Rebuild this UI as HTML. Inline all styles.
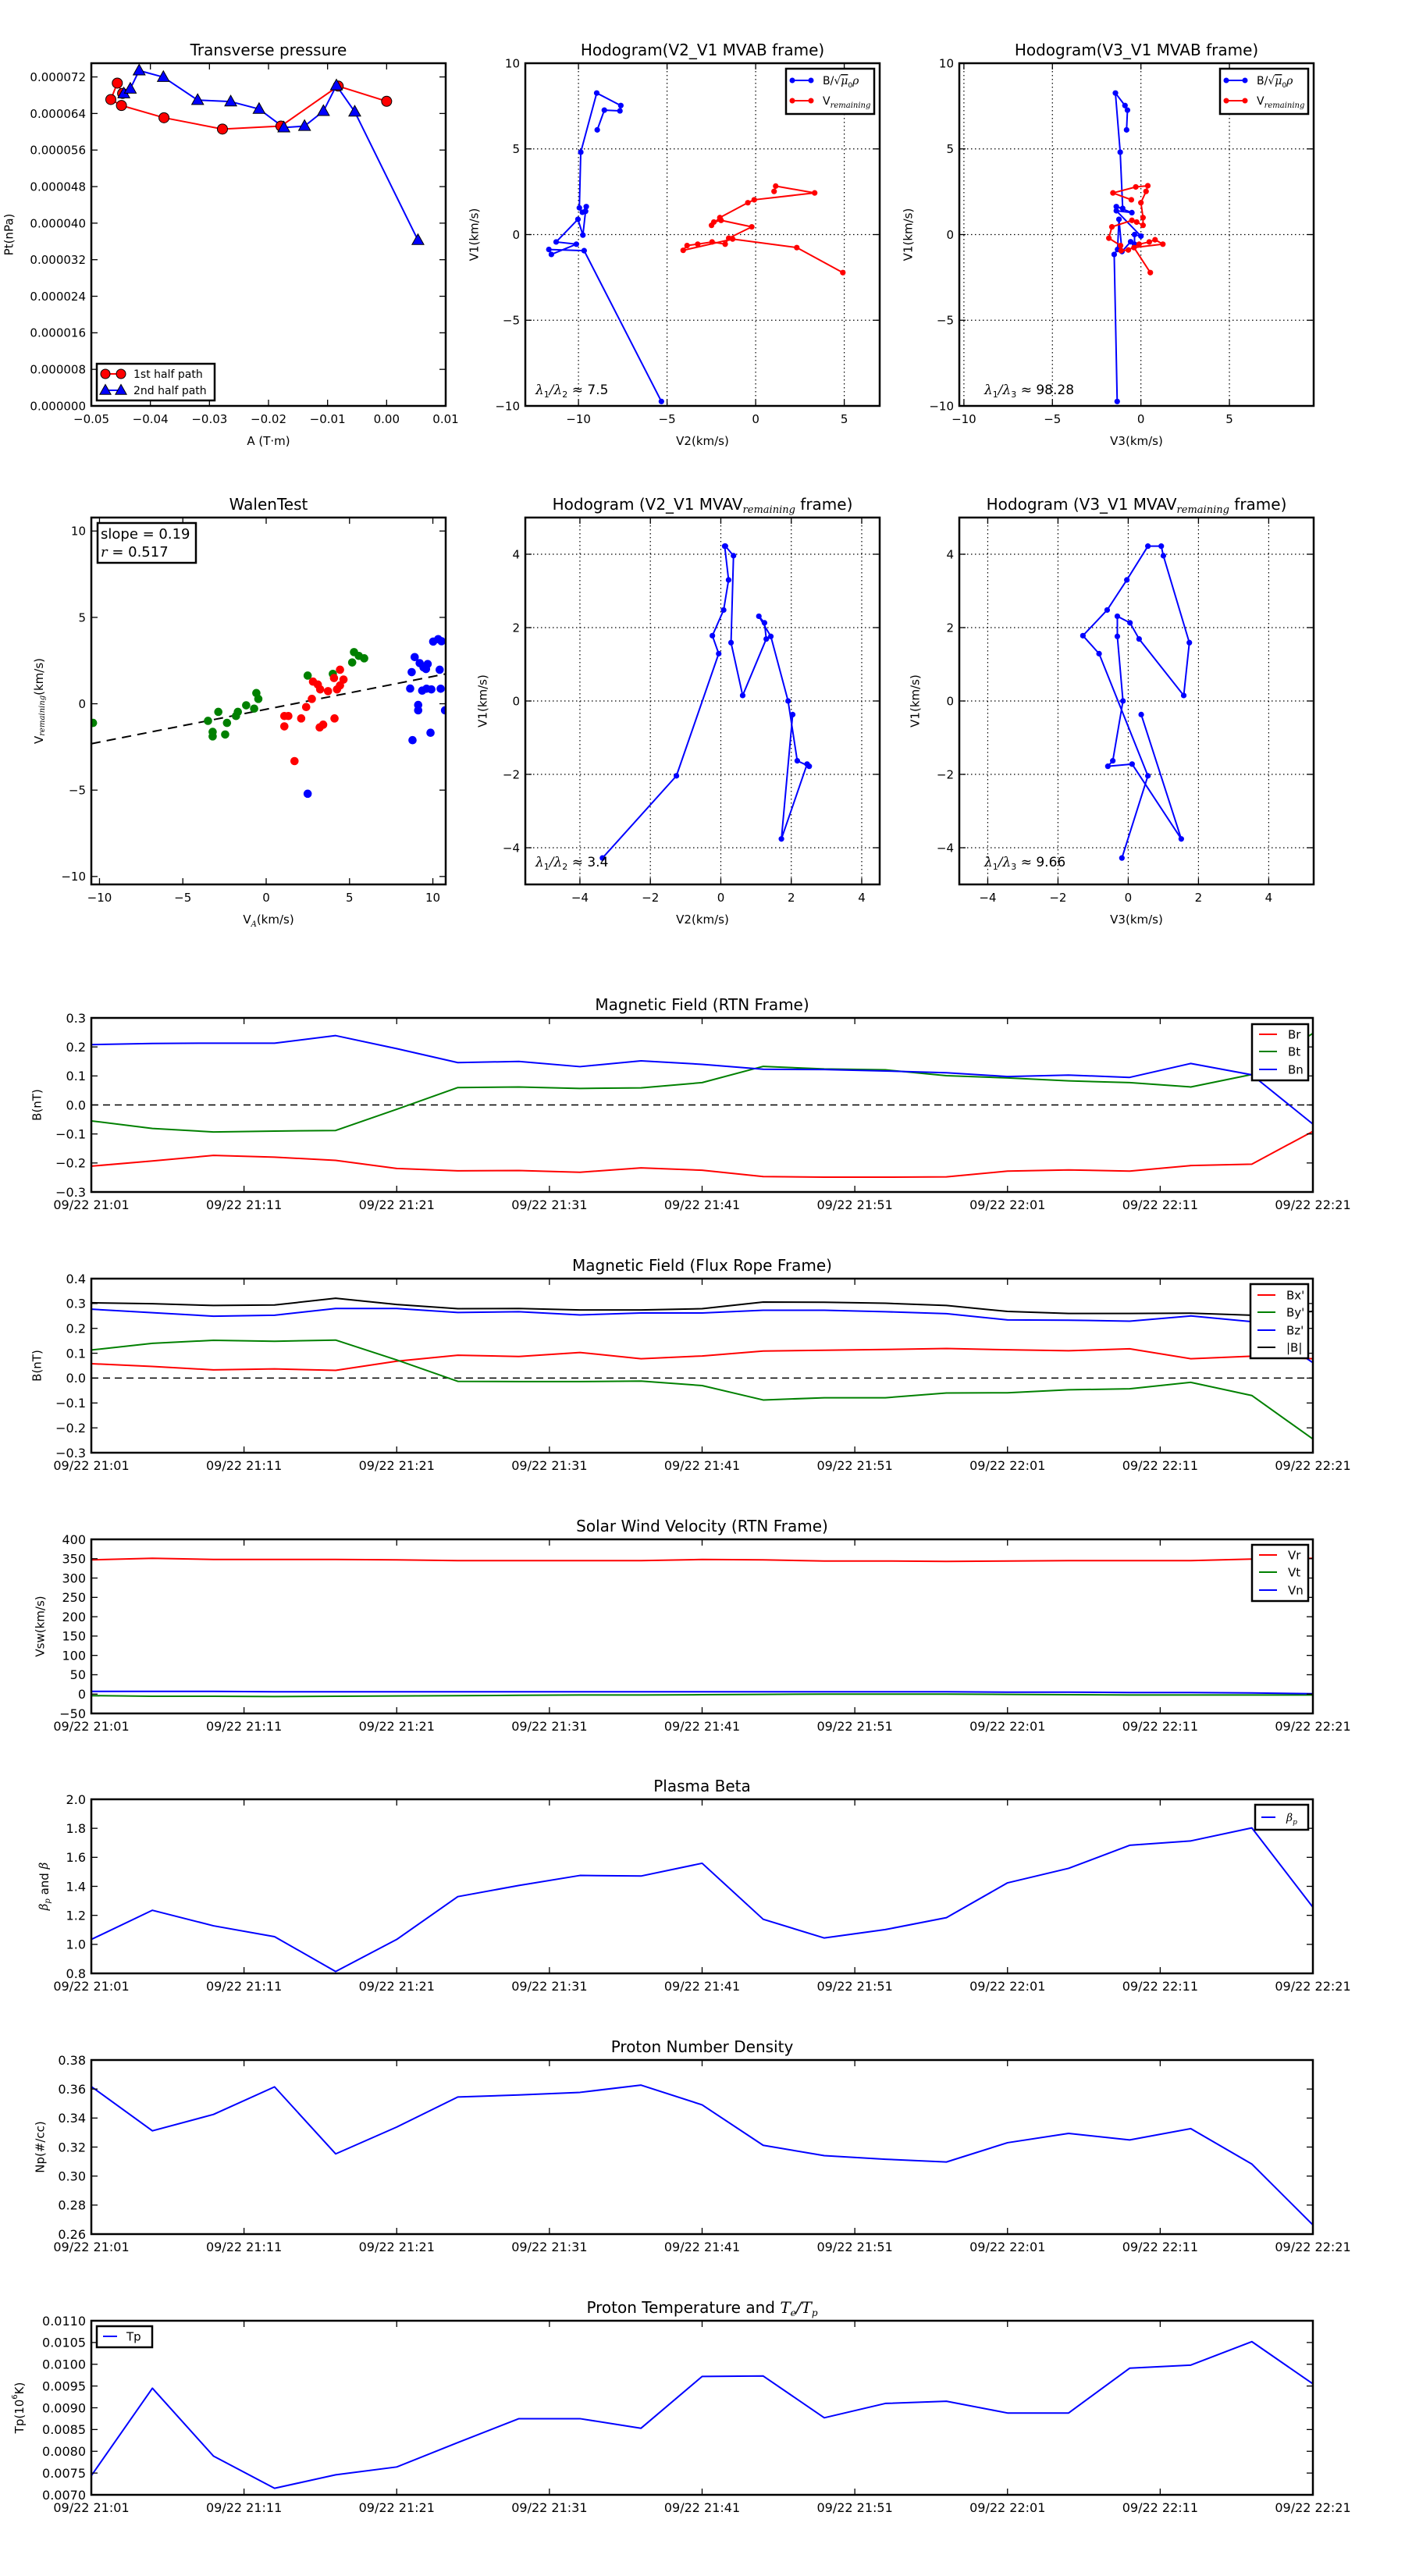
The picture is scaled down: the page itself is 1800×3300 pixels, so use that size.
<!DOCTYPE html>
<html><head><meta charset="utf-8"><title>Flux rope analysis</title>
<style>
html,body{margin:0;padding:0;background:#fff;}
svg{display:block;font-family:"DejaVu Sans","Liberation Sans",sans-serif;}
</style></head>
<body>
<svg id="fig" width="1800" height="3300" viewBox="0 0 1800 3300" xmlns="http://www.w3.org/2000/svg">
<rect x="0" y="0" width="1800" height="3300" fill="#fff"/>
</svg>
<script>
// ---------- data: Transverse pressure ----------
const pt1A = [-0.0447,-0.0456,-0.0467,-0.0449,-0.0377,-0.0278,-0.0179,-0.0082,0.0000];
const pt1P = [6.84e-5,7.065e-5,6.706e-5,6.575e-5,6.307e-5,6.059e-5,6.124e-5,7.00e-5,6.667e-5];
const pt2A = [-0.0445,-0.0434,-0.0419,-0.0378,-0.0320,-0.0264,-0.0216,-0.0174,-0.0139,-0.0107,-0.0085,-0.0054,0.0053];
const pt2P = [6.837e-5,6.941e-5,7.340e-5,7.196e-5,6.693e-5,6.660e-5,6.497e-5,6.092e-5,6.124e-5,6.451e-5,7.013e-5,6.438e-5,3.627e-5];
const ptYTicks = [0,0.000008,0.000016,0.000024,0.000032,0.000040,0.000048,0.000056,0.000064,0.000072];
const ptXTicks = [-0.05,-0.04,-0.03,-0.02,-0.01,0.00,0.01];
// ---------- data: Hodogram V2_V1 MVAB ----------
const hbV2 = [-8.94,-8.54,-7.66,-7.61,-8.97,-9.87,-9.95,-9.78,-9.56,-9.60,-9.75,-10.03,-11.26,-10.12,-11.53,-11.67,-9.68,-5.32];
const hbV1 = [6.11,7.26,7.22,7.53,8.26,4.81,1.56,1.30,1.63,1.36,-0.03,0.89,-0.43,-0.56,-1.16,-0.87,-0.94,-9.74];
const hrV2 = [4.92,2.32,-1.30,-4.09,-3.87,-3.27,-2.46,-1.72,-1.52,-0.22,-1.95,-2.36,-2.49,-2.02,-0.44,-0.08,3.33,1.13,1.04];
const hrV1 = [-2.22,-0.76,-0.26,-0.92,-0.64,-0.56,-0.43,-0.56,-0.21,0.45,0.83,0.73,0.54,0.99,1.86,2.03,2.43,2.83,2.52];
// ---------- data: Hodogram V3_V1 MVAB ----------
const hbV3 = [-0.81,-0.76,-0.90,-1.44,-1.17,-1.03,-1.39,-0.51,-1.39,0.00,-0.36,-0.36,-0.58,-1.07,-1.24,-1.32,-1.51,-1.34];
const hbV1b = [6.11,7.26,7.53,8.26,4.81,1.53,1.63,1.28,1.39,-0.09,0.00,-0.56,-0.42,-0.99,0.89,-0.87,-1.16,-9.74];
const hrV3 = [-0.54,-1.58,-0.29,0.39,0.29,0.00,0.12,0.12,-0.24,-0.51,-1.64,-1.81,-1.15,-1.12,-0.71,-0.10,0.47,0.80,1.24,-0.39,0.53];
const hrV1b = [2.03,2.43,2.78,2.85,2.52,1.86,0.99,0.54,0.73,0.83,0.45,-0.21,-0.64,-0.94,-0.90,-0.56,-0.43,-0.30,-0.56,-0.76,-2.22];
const hodoTicks10 = [-10,-5,0,5,10];
// ---------- data: Walen test ----------
const wgX = [-10.39,-3.49,-3.21,-3.21,-2.87,-2.46,-2.35,-1.81,-1.70,-1.20,-0.72,-0.59,-0.47,2.49,4.00,5.16,5.27,5.56,5.88];
const wgY = [-1.11,-0.99,-1.63,-1.89,-0.47,-1.78,-1.11,-0.71,-0.47,-0.09,-0.28,0.62,0.28,1.63,1.73,2.39,2.99,2.77,2.63];
const wrX = [1.09,1.33,1.09,1.70,2.10,2.40,2.74,2.81,3.10,3.24,3.21,3.42,3.71,4.07,4.10,4.25,4.43,4.43,4.64];
const wrY = [-0.71,-0.71,-1.31,-3.32,-0.85,-0.19,0.28,1.28,1.11,0.83,-1.37,-1.21,0.73,1.49,-0.85,0.83,1.06,1.97,1.40];
const wbX = [2.49,8.64,8.73,8.78,8.91,9.12,9.12,9.21,9.36,9.44,9.59,9.62,9.69,9.86,9.91,10.02,10.32,10.41,10.47,10.52,10.73];
const wbY = [-5.21,0.88,1.83,-2.11,2.70,-0.07,-0.38,2.35,0.76,2.11,2.01,0.87,2.30,-1.68,0.83,3.60,3.74,1.97,0.87,3.62,-0.38];
const walenSlope = 0.19;
const walenIntercept = -0.32;
// ---------- data: MVAV hodograms ----------
const mvV1 = [-4.28,-2.04,1.29,1.78,2.48,3.30,4.22,4.22,3.96,1.59,0.15,1.69,2.13,2.31,1.76,0.00,-1.63,-1.78,-1.72,-3.76,-0.37];
const mvV2 = [-3.36,-1.26,-0.06,-0.24,0.08,0.22,0.11,0.13,0.36,0.29,0.62,1.29,1.24,1.08,1.42,1.91,2.17,2.51,2.45,1.72,2.04];
const mvV3 = [-0.18,0.56,-0.83,-1.29,-0.60,-0.04,0.56,0.94,1.00,1.74,1.58,0.31,0.05,-0.31,-0.31,-0.15,-0.44,-0.58,0.11,1.51,0.37];
const hodoTicks4 = [-4,-2,0,2,4];
// ---------- data: time series ----------
const times = ["21:01","21:05","21:09","21:13","21:17","21:21","21:25","21:29","21:33","21:37","21:41","21:45","21:49","21:53","21:57","22:01","22:05","22:09","22:13","22:17","22:21"];
const timeTickLabels = ["09/22 21:01","09/22 21:11","09/22 21:21","09/22 21:31","09/22 21:41","09/22 21:51","09/22 22:01","09/22 22:11","09/22 22:21"];
const Br = [-0.211,-0.193,-0.174,-0.180,-0.191,-0.219,-0.227,-0.226,-0.232,-0.217,-0.225,-0.247,-0.249,-0.249,-0.248,-0.228,-0.224,-0.228,-0.209,-0.204,-0.091];
const Bt = [-0.055,-0.081,-0.093,-0.090,-0.088,-0.015,0.060,0.062,0.057,0.059,0.077,0.133,0.124,0.121,0.101,0.093,0.083,0.077,0.062,0.105,0.247];
const Bn = [0.208,0.212,0.213,0.213,0.239,0.194,0.146,0.150,0.132,0.152,0.140,0.123,0.122,0.117,0.111,0.098,0.103,0.095,0.143,0.104,-0.066];
const Bx = [0.058,0.047,0.033,0.037,0.031,0.068,0.092,0.087,0.103,0.078,0.089,0.109,0.112,0.115,0.119,0.114,0.110,0.118,0.078,0.088,0.078];
const By = [0.113,0.140,0.152,0.148,0.153,0.073,-0.013,-0.014,-0.014,-0.012,-0.030,-0.088,-0.079,-0.079,-0.060,-0.059,-0.047,-0.043,-0.017,-0.070,-0.245];
const Bz = [0.277,0.263,0.249,0.253,0.280,0.280,0.264,0.267,0.254,0.262,0.262,0.273,0.273,0.267,0.259,0.234,0.233,0.229,0.250,0.227,0.062];
const Bmag = [0.303,0.299,0.292,0.294,0.321,0.296,0.279,0.280,0.274,0.274,0.279,0.306,0.305,0.301,0.292,0.268,0.260,0.260,0.261,0.253,0.268];
const Vr = [347,351,348,348,348,347,345,345,345,345,348,347,344,344,343,344,345,345,345,349,351];
const Vt = [-4,-5.6,-5.6,-6.4,-5.6,-4.8,-4,-3.2,-2.4,-2.4,-1.6,-0.8,0,0,0,-0.8,-1.6,-2.4,-2.4,-2.4,-2.4];
const Vn = [7,7,7,6,6,6,6,6,6,6,6,6,6,6,6,5,5,4,4,3,1];
const betaP = [1.034,1.235,1.128,1.053,0.813,1.034,1.329,1.406,1.475,1.471,1.559,1.173,1.044,1.102,1.184,1.424,1.524,1.683,1.713,1.803,1.256];
const Np = [0.3617,0.3312,0.3425,0.3615,0.3153,0.3338,0.3545,0.3559,0.3577,0.3627,0.3491,0.3212,0.3141,0.3116,0.3097,0.3230,0.3294,0.3249,0.3327,0.3083,0.2663];
const Tp = [0.00744,0.00945,0.00789,0.00715,0.00746,0.00764,0.00820,0.00875,0.00875,0.00853,0.00972,0.00973,0.00877,0.00910,0.00915,0.00888,0.00888,0.00991,0.00998,0.01052,0.00955];
const ticksB1 = [-0.3,-0.2,-0.1,0.0,0.1,0.2,0.3];
const ticksB2 = [-0.3,-0.2,-0.1,0.0,0.1,0.2,0.3,0.4];
const ticksV = [-50,0,50,100,150,200,250,300,350,400];
const ticksBeta = [0.8,1.0,1.2,1.4,1.6,1.8,2.0];
const ticksNp = [0.26,0.28,0.30,0.32,0.34,0.36,0.38];
const ticksTp = [0.0070,0.0075,0.0080,0.0085,0.0090,0.0095,0.0100,0.0105,0.0110];

// ---------- helpers ----------
const NS = 'http://www.w3.org/2000/svg';
const svg = document.getElementById('fig');
const SUB = -4;
let clipId = 0;
function mk(tag, attrs, parent, name, inter) {
  const el = document.createElementNS(NS, tag);
  for (const k in attrs) el.setAttribute(k, attrs[k]);
  
  
  (parent || svg).appendChild(el);
  return el;
}
function minus(s) { return String(s).replace(/-/g, '\u2212'); }
function tmin(t) { const p = t.split(':'); return (+p[0]) * 60 + (+p[1]) - (21 * 60 + 1); }

function makeAxes(c) {
  const g = mk('g', {}, svg, c.name, false);
  const sx = v => c.x0 + (v - c.xmin) / (c.xmax - c.xmin) * (c.x1 - c.x0);
  const sy = v => c.y1 - (v - c.ymin) / (c.ymax - c.ymin) * (c.y1 - c.y0);
  const id = 'clip' + (clipId++);
  const defs = mk('defs', {}, g, 'clip-defs', false);
  const cp = mk('clipPath', { id: id }, defs, 'plot-clip', false);
  mk('rect', { x: c.x0, y: c.y0, width: c.x1 - c.x0, height: c.y1 - c.y0 }, cp, 'clip-rect', false);
  const fs = c.fs || 15;
  if (c.grid) {
    c.xticks.forEach(v => {
      const x = sx(v); if (x < c.x0 + 1 || x > c.x1 - 1) return;
      mk('line', { x1: x, x2: x, y1: c.y0, y2: c.y1, stroke: '#000', 'stroke-width': 1.2, 'stroke-dasharray': '1.5,3.5' }, g, 'grid-line-x', false);
    });
    c.yticks.forEach(v => {
      const y = sy(v); if (y < c.y0 + 1 || y > c.y1 - 1) return;
      mk('line', { x1: c.x0, x2: c.x1, y1: y, y2: y, stroke: '#000', 'stroke-width': 1.2, 'stroke-dasharray': '1.5,3.5' }, g, 'grid-line-y', false);
    });
  }
  const plot = mk('g', { 'clip-path': 'url(#' + id + ')' }, g, 'plot-area', false);
  const tl = 8;
  c.xticks.forEach((v, i) => {
    const x = sx(v);
    mk('line', { x1: x, x2: x, y1: c.y1, y2: c.y1 - tl, stroke: '#000', 'stroke-width': 1.3 }, g, 'x-tick', false);
    mk('line', { x1: x, x2: x, y1: c.y0, y2: c.y0 + tl, stroke: '#000', 'stroke-width': 1.3 }, g, 'x-tick-top', false);
    const lab = c.xlabels ? c.xlabels[i] : minus(c.xfmt ? c.xfmt(v) : v);
    const t = mk('text', { x: x, y: c.y1 + 22, 'text-anchor': 'middle', 'font-size': fs, fill: '#000' }, g, 'x-tick-label', false);
    t.textContent = lab;
  });
  c.yticks.forEach(v => {
    const y = sy(v);
    mk('line', { x1: c.x0, x2: c.x0 + tl, y1: y, y2: y, stroke: '#000', 'stroke-width': 1.3 }, g, 'y-tick', false);
    mk('line', { x1: c.x1, x2: c.x1 - tl, y1: y, y2: y, stroke: '#000', 'stroke-width': 1.3 }, g, 'y-tick-right', false);
    const t = mk('text', { x: c.x0 - 7, y: y + fs * 0.36, 'text-anchor': 'end', 'font-size': fs, fill: '#000' }, g, 'y-tick-label', false);
    t.textContent = minus(c.yfmt ? c.yfmt(v) : v);
  });
  if (c.title) {
    const t = mk('text', { x: (c.x0 + c.x1) / 2, y: c.y0 - 10, 'text-anchor': 'middle', 'font-size': 20, fill: '#000' }, g, 'chart-title', false);
    c.title(t);
  }
  if (c.xlabel) {
    const t = mk('text', { x: (c.x0 + c.x1) / 2, y: c.y1 + 50, 'text-anchor': 'middle', 'font-size': 15, fill: '#000' }, g, 'x-axis-title', false);
    c.xlabel(t);
  }
  if (c.ylabel) {
    const cy = (c.y0 + c.y1) / 2;
    const t = mk('text', { x: c.ylx, y: cy, 'text-anchor': 'middle', 'font-size': 15, fill: '#000', transform: 'rotate(-90 ' + c.ylx + ' ' + cy + ')', 'dominant-baseline': 'middle' }, g, 'y-axis-title', false);
    c.ylabel(t);
  }
  return { g, plot, sx, sy, c };
}
function frame(ax) {
  const c = ax.c;
  mk('rect', { x: c.x0, y: c.y0, width: c.x1 - c.x0, height: c.y1 - c.y0, fill: 'none', stroke: '#000', 'stroke-width': 2.5 }, ax.g, 'axes-frame', false);
}
function addSpan(t, txt, attrs) {
  const s = document.createElementNS(NS, 'tspan');
  for (const k in attrs) s.setAttribute(k, attrs[k]);
  s.textContent = txt; t.appendChild(s); return s;
}
function plainText(str) { return t => { t.textContent = str; }; }
function polyline(ax, xs, ys, color, name, w) {
  const pts = xs.map((x, i) => ax.sx(x).toFixed(2) + ',' + ax.sy(ys[i]).toFixed(2)).join(' ');
  return mk('polyline', { points: pts, fill: 'none', stroke: color, 'stroke-width': w || 2, 'stroke-linejoin': 'round' }, ax.plot, name, false);
}
function dots(ax, xs, ys, color, r, name, stroke) {
  xs.forEach((x, i) => {
    const a = { cx: ax.sx(x).toFixed(2), cy: ax.sy(ys[i]).toFixed(2), r: r, fill: color };
    if (stroke) { a.stroke = '#000'; a['stroke-width'] = 1; } else { a.stroke = 'none'; }
    mk('circle', a, ax.plot, name, false);
  });
}
function tris(ax, xs, ys, color, s, name) {
  xs.forEach((x, i) => {
    const cx = ax.sx(x), cy = ax.sy(ys[i]);
    const p = [[cx, cy - s], [cx - s * 0.95, cy + s * 0.7], [cx + s * 0.95, cy + s * 0.7]].map(q => q[0].toFixed(2) + ',' + q[1].toFixed(2)).join(' ');
    mk('polygon', { points: p, fill: color, stroke: '#000', 'stroke-width': 1 }, ax.plot, name, false);
  });
}
function legendBox(ax, x, y, w, h, entries, fs, lineX0, lineX1, textX, rowYs) {
  const g = mk('g', {}, ax.g, 'legend', false);
  mk('rect', { x: x, y: y, width: w, height: h, fill: '#fff', stroke: '#000', 'stroke-width': 2.5 }, g, 'legend-box', false);
  entries.forEach((e, i) => {
    const ry = rowYs[i];
    const eg = mk('g', {}, g, 'legend-entry', false);
    mk('line', { x1: lineX0, x2: lineX1, y1: ry, y2: ry, stroke: e.color, 'stroke-width': 2 }, eg, 'legend-line', false);
    if (e.marker === 'circle') {
      mk('circle', { cx: lineX0, cy: ry, r: e.r, fill: e.color, stroke: e.mstroke || 'none', 'stroke-width': 1 }, eg, 'legend-marker', false);
      mk('circle', { cx: lineX1, cy: ry, r: e.r, fill: e.color, stroke: e.mstroke || 'none', 'stroke-width': 1 }, eg, 'legend-marker', false);
    } else if (e.marker === 'tri') {
      [lineX0, lineX1].forEach(mx => {
        const s = e.r;
        const p = [[mx, ry - s], [mx - s * 0.95, ry + s * 0.7], [mx + s * 0.95, ry + s * 0.7]].map(q => q.join(',')).join(' ');
        mk('polygon', { points: p, fill: e.color, stroke: '#000', 'stroke-width': 1 }, eg, 'legend-marker', false);
      });
    }
    const t = mk('text', { x: textX, y: ry + fs * 0.36, 'font-size': fs, fill: '#000' }, eg, 'legend-label', false);
    if (typeof e.label === 'function') e.label(t); else t.textContent = e.label;
  });
}
const mathI = { 'font-family': '"DejaVu Serif","Liberation Serif",serif', 'font-style': 'italic' };
function subScript(t, txt, size) {
  addSpan(t, txt, Object.assign({ 'baseline-shift': SUB, 'font-size': size }, mathI));
}
function bSqrtLabel(t) {
  addSpan(t, 'B/\u221A', {});
  addSpan(t, '\u03BC', Object.assign({ 'text-decoration': 'overline' }, mathI));
  addSpan(t, '0', { 'baseline-shift': SUB, 'font-size': 9 });
  addSpan(t, '\u03C1', Object.assign({ 'baseline-shift': 'baseline' }, mathI));
}
function vremLabel(t) {
  addSpan(t, 'V', {});
  subScript(t, 'remaining', 10);
}
function lambdaText(ax, x, y, a, b, val) {
  const t = mk('text', { x: x, y: y, 'font-size': 17, fill: '#000' }, ax.g, 'eigenvalue-ratio', false);
  addSpan(t, '\u03BB', mathI);
  addSpan(t, '1', { 'baseline-shift': SUB, 'font-size': 11 });
  addSpan(t, '/', Object.assign({ 'baseline-shift': 'baseline' }, mathI));
  addSpan(t, '\u03BB', mathI);
  addSpan(t, b, { 'baseline-shift': SUB, 'font-size': 11 });
  addSpan(t, ' \u2248 ' + val, { 'baseline-shift': 'baseline' });
}

// ---------- Panel 1 ----------
(function () {
  const ax = makeAxes({ name: 'transverse-pressure-chart', x0: 117, x1: 571, y0: 81, y1: 520, xmin: -0.05, xmax: 0.01, ymin: 0, ymax: 0.000075,
    xticks: ptXTicks, yticks: ptYTicks, xfmt: v => v.toFixed(2), yfmt: v => v.toFixed(6),
    title: plainText('Transverse pressure'), xlabel: plainText('A (T\u00B7m)'), ylabel: plainText('Pt(nPa)'), ylx: 12 });
  polyline(ax, pt1A, pt1P, '#ff0000', 'series-1st-half-line', 2);
  polyline(ax, pt2A, pt2P, '#0000ff', 'series-2nd-half-line', 2);
  dots(ax, pt1A, pt1P, '#ff0000', 6.5, 'point-1st-half', true);
  tris(ax, pt2A, pt2P, '#0000ff', 8, 'point-2nd-half');
  frame(ax);
  legendBox(ax, 124, 466, 151, 47, [
    { color: '#ff0000', label: '1st half path', marker: 'circle', r: 6, mstroke: '#000' },
    { color: '#0000ff', label: '2nd half path', marker: 'tri', r: 7.5 }
  ], 14, 135, 155, 171, [479, 500]);
})();

// ---------- Panel 2 ----------
(function () {
  const ax = makeAxes({ name: 'hodogram-v2-v1-mvab', x0: 673, x1: 1127, y0: 81, y1: 520, xmin: -13, xmax: 7, ymin: -10, ymax: 10,
    xticks: [-10, -5, 0, 5], yticks: hodoTicks10, grid: true,
    title: plainText('Hodogram(V2_V1 MVAB frame)'), xlabel: plainText('V2(km/s)'), ylabel: plainText('V1(km/s)'), ylx: 608 });
  polyline(ax, hbV2, hbV1, '#0000ff', 'series-b-alfven', 2);
  dots(ax, hbV2, hbV1, '#0000ff', 3.6, 'point-b-alfven');
  polyline(ax, hrV2, hrV1, '#ff0000', 'series-v-remaining', 2);
  dots(ax, hrV2, hrV1, '#ff0000', 3.6, 'point-v-remaining');
  frame(ax);
  legendBox(ax, 1007, 88, 113, 58, [
    { color: '#0000ff', label: bSqrtLabel, marker: 'circle', r: 3.5 },
    { color: '#ff0000', label: vremLabel, marker: 'circle', r: 3.5 }
  ], 14, 1015, 1039, 1054, [103, 129]);
  lambdaText(ax, 686, 505, '1', '2', '7.5');
})();

// ---------- Panel 3 ----------
(function () {
  const ax = makeAxes({ name: 'hodogram-v3-v1-mvab', x0: 1229, x1: 1683, y0: 81, y1: 520, xmin: -10.26, xmax: 9.76, ymin: -10, ymax: 10,
    xticks: [-10, -5, 0, 5], yticks: hodoTicks10, grid: true,
    title: plainText('Hodogram(V3_V1 MVAB frame)'), xlabel: plainText('V3(km/s)'), ylabel: plainText('V1(km/s)'), ylx: 1164 });
  polyline(ax, hbV3, hbV1b, '#0000ff', 'series-b-alfven', 2);
  dots(ax, hbV3, hbV1b, '#0000ff', 3.6, 'point-b-alfven');
  polyline(ax, hrV3, hrV1b, '#ff0000', 'series-v-remaining', 2);
  dots(ax, hrV3, hrV1b, '#ff0000', 3.6, 'point-v-remaining');
  frame(ax);
  legendBox(ax, 1563, 88, 113, 58, [
    { color: '#0000ff', label: bSqrtLabel, marker: 'circle', r: 3.5 },
    { color: '#ff0000', label: vremLabel, marker: 'circle', r: 3.5 }
  ], 14, 1571, 1595, 1610, [103, 129]);
  lambdaText(ax, 1261, 505, '1', '3', '98.28');
})();

// ---------- Panel 4 ----------
(function () {
  const ax = makeAxes({ name: 'walen-test-chart', x0: 117, x1: 571, y0: 663, y1: 1133, xmin: -10.49, xmax: 10.77, ymin: -10.46, ymax: 10.78,
    xticks: [-10, -5, 0, 5, 10], yticks: [-10, -5, 0, 5, 10],
    title: plainText('WalenTest'),
    xlabel: t => { addSpan(t, 'V', {}); subScript(t, 'A', 10); addSpan(t, '(km/s)', { 'baseline-shift': 'baseline' }); },
    ylabel: t => { addSpan(t, 'V', {}); subScript(t, 'remaining', 10); addSpan(t, '(km/s)', { 'baseline-shift': 'baseline' }); }, ylx: 50 });
  const fitX = [ax.c.xmin, ax.c.xmax];
  const fitY = fitX.map(x => walenSlope * x + walenIntercept);
  const fl = polyline(ax, fitX, fitY, '#000', 'fit-line', 2);
  fl.setAttribute('stroke-dasharray', '12,8');
  dots(ax, wgX, wgY, '#008000', 5.3, 'point-walen-green');
  dots(ax, wrX, wrY, '#ff0000', 5.3, 'point-walen-red');
  dots(ax, wbX, wbY, '#0000ff', 5.3, 'point-walen-blue');
  frame(ax);
  mk('rect', { x: 125, y: 670, width: 126, height: 51, fill: '#fff', stroke: '#000', 'stroke-width': 2.5 }, ax.g, 'stats-box', false);
  const t1 = mk('text', { x: 129, y: 690, 'font-size': 18, fill: '#000' }, ax.g, 'slope-text', false);
  t1.textContent = 'slope = ' + walenSlope.toFixed(2);
  const t2 = mk('text', { x: 129, y: 713, 'font-size': 18, fill: '#000' }, ax.g, 'correlation-text', false);
  addSpan(t2, 'r', mathI); addSpan(t2, ' = 0.517', {});
})();

// ---------- Panel 5 / 6 ----------
function mvavTitle(v) {
  return t => { addSpan(t, 'Hodogram (' + v + '_V1 MVAV', {}); subScript(t, 'remaining', 13); addSpan(t, ' frame)', { 'baseline-shift': 'baseline' }); };
}
(function () {
  const ax = makeAxes({ name: 'hodogram-v2-v1-mvav', x0: 673, x1: 1127, y0: 663, y1: 1133, xmin: -5.55, xmax: 4.51, ymin: -5, ymax: 5,
    xticks: hodoTicks4, yticks: hodoTicks4, grid: true,
    title: mvavTitle('V2'), xlabel: plainText('V2(km/s)'), ylabel: plainText('V1(km/s)'), ylx: 619 });
  polyline(ax, mvV2, mvV1, '#0000ff', 'series-mvav-v2', 2);
  dots(ax, mvV2, mvV1, '#0000ff', 3.6, 'point-mvav-v2');
  frame(ax);
  lambdaText(ax, 686, 1110, '1', '2', '3.4');
})();
(function () {
  const ax = makeAxes({ name: 'hodogram-v3-v1-mvav', x0: 1229, x1: 1683, y0: 663, y1: 1133, xmin: -4.81, xmax: 5.28, ymin: -5, ymax: 5,
    xticks: hodoTicks4, yticks: hodoTicks4, grid: true,
    title: mvavTitle('V3'), xlabel: plainText('V3(km/s)'), ylabel: plainText('V1(km/s)'), ylx: 1173 });
  polyline(ax, mvV3, mvV1, '#0000ff', 'series-mvav-v3', 2);
  dots(ax, mvV3, mvV1, '#0000ff', 3.6, 'point-mvav-v3');
  frame(ax);
  lambdaText(ax, 1261, 1110, '1', '3', '9.66');
})();

// ---------- Time series ----------
const tX = times.map(tmin);
const tickMins = timeTickLabels.map(s => tmin(s.split(' ')[1]));
function tsAxes(name, y0, ymin, ymax, yticks, yfmt, title, ylabel, ylx) {
  return makeAxes({ name: name, x0: 117, x1: 1682, y0: y0, y1: y0 + 223, xmin: 0, xmax: 80, ymin: ymin, ymax: ymax,
    xticks: tickMins, xlabels: timeTickLabels, yticks: yticks, yfmt: yfmt, fs: 16,
    title: title, ylabel: ylabel, ylx: ylx });
}
function zeroLine(ax) {
  return mk('line', { x1: ax.c.x0, x2: ax.c.x1, y1: ax.sy(0), y2: ax.sy(0), stroke: '#000', 'stroke-width': 1.5, 'stroke-dasharray': '9,6' }, ax.plot, 'zero-line', false);
}
const f1 = v => v.toFixed(1);
(function () {
  const ax = tsAxes('magnetic-field-rtn-chart', 1304, -0.3, 0.3, ticksB1, f1, plainText('Magnetic Field (RTN Frame)'), plainText('B(nT)'), 48);
  zeroLine(ax);
  polyline(ax, tX, Br, '#ff0000', 'series-br', 2);
  polyline(ax, tX, Bt, '#008000', 'series-bt', 2);
  polyline(ax, tX, Bn, '#0000ff', 'series-bn', 2);
  frame(ax);
  legendBox(ax, 1604, 1312, 72, 72, [
    { color: '#ff0000', label: 'Br' }, { color: '#008000', label: 'Bt' }, { color: '#0000ff', label: 'Bn' }
  ], 15, 1613, 1636, 1650, [1325, 1347, 1370]);
})();
(function () {
  const ax = tsAxes('magnetic-field-flux-rope-chart', 1638, -0.3, 0.4, ticksB2, f1, plainText('Magnetic Field (Flux Rope Frame)'), plainText('B(nT)'), 48);
  zeroLine(ax);
  polyline(ax, tX, Bx, '#ff0000', 'series-bx', 2);
  polyline(ax, tX, By, '#008000', 'series-by', 2);
  polyline(ax, tX, Bz, '#0000ff', 'series-bz', 2);
  polyline(ax, tX, Bmag, '#000000', 'series-bmag', 2);
  frame(ax);
  legendBox(ax, 1602, 1645, 74, 95, [
    { color: '#ff0000', label: "Bx'" }, { color: '#008000', label: "By'" }, { color: '#0000ff', label: "Bz'" }, { color: '#000000', label: '|B|' }
  ], 15, 1611, 1634, 1648, [1659, 1681, 1704, 1726]);
})();
(function () {
  const ax = tsAxes('solar-wind-velocity-chart', 1972, -50, 400, ticksV, v => String(v), plainText('Solar Wind Velocity (RTN Frame)'), plainText('Vsw(km/s)'), 52);
  polyline(ax, tX, Vr, '#ff0000', 'series-vr', 2);
  polyline(ax, tX, Vt, '#008000', 'series-vt', 2);
  polyline(ax, tX, Vn, '#0000ff', 'series-vn', 2);
  frame(ax);
  legendBox(ax, 1604, 1979, 72, 72, [
    { color: '#ff0000', label: 'Vr' }, { color: '#008000', label: 'Vt' }, { color: '#0000ff', label: 'Vn' }
  ], 15, 1613, 1636, 1650, [1992, 2014, 2037]);
})();
(function () {
  const ax = tsAxes('plasma-beta-chart', 2305, 0.8, 2.0, ticksBeta, f1, plainText('Plasma Beta'),
    t => { addSpan(t, '\u03B2', mathI); addSpan(t, 'p', Object.assign({ 'baseline-shift': SUB, 'font-size': 10 }, mathI)); addSpan(t, ' and ', { 'baseline-shift': 'baseline' }); addSpan(t, '\u03B2', mathI); }, 57);
  polyline(ax, tX, betaP, '#0000ff', 'series-beta-p', 2);
  frame(ax);
  legendBox(ax, 1608, 2312, 68, 32, [
    { color: '#0000ff', label: t => { addSpan(t, '\u03B2', mathI); addSpan(t, 'p', Object.assign({ 'baseline-shift': SUB, 'font-size': 9 }, mathI)); } }
  ], 14, 1616, 1634, 1648, [2328]);
})();
(function () {
  const ax = tsAxes('proton-density-chart', 2639, 0.26, 0.38, ticksNp, v => v.toFixed(2), plainText('Proton Number Density'), plainText('Np(#/cc)'), 52);
  polyline(ax, tX, Np, '#0000ff', 'series-np', 2);
  frame(ax);
})();
(function () {
  const ax = tsAxes('proton-temperature-chart', 2973, 0.0070, 0.0110, ticksTp, v => v.toFixed(4),
    t => { addSpan(t, 'Proton Temperature and ', {}); addSpan(t, 'T', mathI); addSpan(t, 'e', Object.assign({ 'baseline-shift': SUB, 'font-size': 12 }, mathI)); addSpan(t, '/', Object.assign({ 'baseline-shift': 'baseline' }, mathI)); addSpan(t, 'T', mathI); addSpan(t, 'p', Object.assign({ 'baseline-shift': SUB, 'font-size': 12 }, mathI)); },
    t => { addSpan(t, 'Tp(10', {}); addSpan(t, '6', { 'baseline-shift': 6, 'font-size': 10 }); addSpan(t, 'K)', { 'baseline-shift': 'baseline' }); }, 25);
  polyline(ax, tX, Tp, '#0000ff', 'series-tp', 2);
  frame(ax);
  legendBox(ax, 124, 2980, 71, 27, [{ color: '#0000ff', label: 'Tp' }], 15, 132, 150, 162, [2993]);
})();
</script>
</body></html>
